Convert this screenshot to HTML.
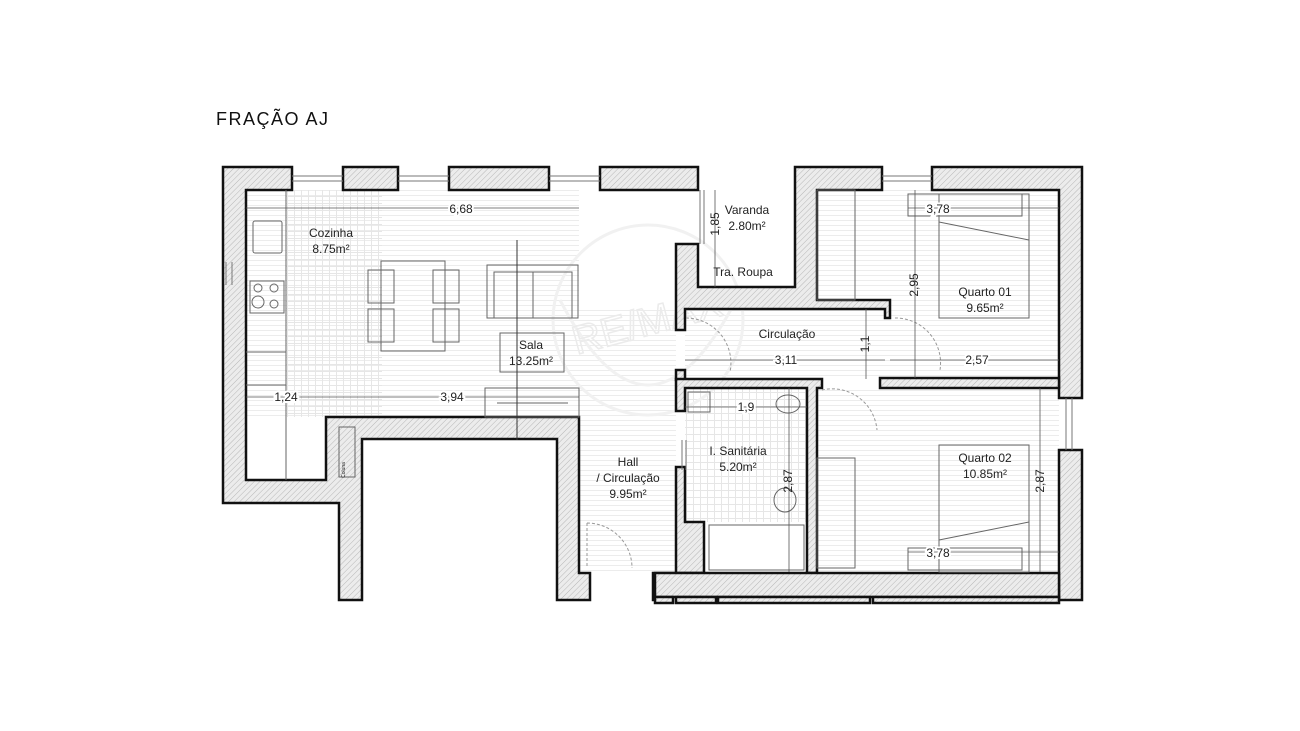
<!DOCTYPE html>
<html><head><meta charset="utf-8"><style>
html,body{margin:0;padding:0;background:#fff;}
svg{display:block;}
text{font-family:"Liberation Sans",sans-serif;fill:#222;}
</style></head><body>
<svg width="1300" height="731" viewBox="0 0 1300 731" xmlns="http://www.w3.org/2000/svg">
<defs>
<pattern id="h" width="4" height="4" patternUnits="userSpaceOnUse" patternTransform="rotate(45)">
<rect width="4" height="4" fill="#ececec"/><line x1="0" y1="0" x2="0" y2="4" stroke="#aaa" stroke-width="0.8"/>
</pattern>
<pattern id="fl" width="6" height="5" patternUnits="userSpaceOnUse">
<line x1="0" y1="0.5" x2="6" y2="0.5" stroke="#ececec" stroke-width="1"/>
</pattern>
<pattern id="gr" width="7" height="7" patternUnits="userSpaceOnUse">
<path d="M0 0.5H7M0.5 0V7" stroke="#e6e6e6" stroke-width="1" fill="none"/>
</pattern>
</defs>
<rect width="1300" height="731" fill="#fff"/>
<text x="216" y="125" font-size="18" letter-spacing="1.5" style="fill:#111">FRAÇÃO AJ</text>

<rect x="246" y="190" width="333" height="227" fill="url(#fl)"/>
<rect x="286" y="190" width="96" height="227" fill="url(#gr)"/>
<rect x="579" y="309" width="97" height="264" fill="url(#fl)"/>
<rect x="685" y="309" width="200" height="70" fill="url(#fl)"/>
<rect x="685" y="388" width="122" height="134" fill="url(#gr)"/>
<rect x="817" y="190" width="242" height="188" fill="url(#fl)"/>
<rect x="817" y="388" width="242" height="184" fill="url(#fl)"/>

<g fill="none" stroke="#f1f1f1" stroke-width="3">
<circle cx="648" cy="320" r="95"/>
<path d="M560 300 Q648 470 736 300"/>
</g>
<text x="570" y="335" font-size="40" style="fill:none;stroke:#ebebeb;stroke-width:1.5" transform="rotate(-15 648 320)">RE/MAX</text>

<g fill="url(#h)" stroke="#111" stroke-width="2.5" stroke-linejoin="miter">
<path d="M223 167H292V190H246V480H326V417H579V573H590V600H557V439H362V600H339V503H223Z"/>
<rect x="343" y="167" width="55" height="23"/>
<rect x="449" y="167" width="100" height="23"/>
<rect x="600" y="167" width="98" height="23"/>
<path d="M676 244H698V287H795V167H882V190H817V300H890V318H885V309H685V330H676Z"/>
<rect x="676" y="370" width="9" height="10"/>
<path d="M676 379H822V388H817V573H807V388H685V411H676Z"/>
<path d="M676 467H685V522H704V573H695V573H655V600H653V573H676Z"/>
<path d="M932 167H1082V398H1059V190H932Z"/>
<path d="M880 378H1059V388H880Z"/>
<path d="M1059 450H1082V600H1059Z"/>
<path d="M655 573H1059V597H655Z"/>
<rect x="655" y="597" width="18" height="6"/>
<rect x="676" y="597" width="40" height="6"/>
<rect x="718" y="597" width="152" height="6"/>
<rect x="873" y="597" width="186" height="6"/>
</g>
<g stroke="#777" stroke-width="1" fill="none">
<path d="M292 176H343M292 181H343M398 176H449M398 181H449M549 176H600M549 181H600M882 176H932M882 181H932"/>
<path d="M1066 398V450M1072 398V450M226 262V285M232 262V285"/>
<path d="M700 190V244M704 190V244M682 440V470M686 440V470"/>
</g>

<g fill="none" stroke="#666" stroke-width="1">
<rect x="253" y="221" width="29" height="32" rx="2"/>
<rect x="250" y="281" width="34" height="32"/>
<circle cx="258" cy="288" r="4"/><circle cx="274" cy="288" r="4"/><circle cx="258" cy="302" r="6"/><circle cx="274" cy="304" r="4"/>
<line x1="286" y1="190" x2="286" y2="480"/>
<line x1="246" y1="352" x2="286" y2="352"/><line x1="246" y1="385" x2="286" y2="385"/>
<rect x="381" y="261" width="64" height="90"/>
<rect x="368" y="270" width="26" height="33"/><rect x="368" y="309" width="26" height="33"/>
<rect x="433" y="270" width="26" height="33"/><rect x="433" y="309" width="26" height="33"/>
<rect x="487" y="265" width="91" height="53"/><rect x="494" y="272" width="78" height="46"/>
<line x1="533" y1="272" x2="533" y2="318"/>
<rect x="500" y="333" width="64" height="39"/>
<rect x="485" y="388" width="94" height="29"/>
<line x1="497" y1="403" x2="568" y2="403"/>
<line x1="517" y1="240" x2="517" y2="440" stroke="#333"/>
<rect x="339" y="427" width="16" height="50"/>
<rect x="939" y="194" width="90" height="124"/>
<line x1="939" y1="222" x2="1029" y2="240"/>
<rect x="908" y="194" width="114" height="22"/>
<rect x="939" y="445" width="90" height="127"/>
<line x1="939" y1="540" x2="1029" y2="522"/>
<rect x="908" y="548" width="114" height="22"/>
<rect x="817" y="190" width="38" height="110"/>
<rect x="817" y="458" width="38" height="110"/>
<rect x="709" y="525" width="95" height="45"/>
<ellipse cx="788" cy="404" rx="12" ry="9"/>
<ellipse cx="785" cy="500" rx="11" ry="12"/>
<rect x="688" y="392" width="22" height="20"/>
</g>
<g fill="none" stroke="#999" stroke-width="1" stroke-dasharray="3 2">
<path d="M587 523A45 45 0 0 1 632 568M587 523V568"/>
<path d="M822 390A45 45 0 0 1 877 430"/>
<path d="M895 318A45 45 0 0 1 940 370"/>
<path d="M686 318A45 45 0 0 1 730 372"/>
</g>
<g stroke="#555" stroke-width="0.8">
<line x1="246" y1="208" x2="579" y2="208"/>
<line x1="246" y1="397" x2="579" y2="397"/>
<line x1="685" y1="360" x2="885" y2="360"/>
<line x1="890" y1="360" x2="1059" y2="360"/>
<line x1="908" y1="208" x2="1059" y2="208"/>
<line x1="908" y1="552" x2="1059" y2="552"/>
<line x1="685" y1="407" x2="807" y2="407"/>
<line x1="715" y1="190" x2="715" y2="287"/>
<line x1="915" y1="190" x2="915" y2="378"/>
<line x1="866" y1="309" x2="866" y2="379"/>
<line x1="789" y1="388" x2="789" y2="572"/>
<line x1="1040" y1="388" x2="1040" y2="572"/>
</g>

<g font-size="12" text-anchor="middle">
<text x="331" y="237">Cozinha</text><text x="331" y="253">8.75m²</text>
<text x="531" y="349">Sala</text><text x="531" y="365">13.25m²</text>
<text x="461" y="213" stroke="#fff" stroke-width="4" paint-order="stroke">6,68</text>
<text x="286" y="401" stroke="#fff" stroke-width="4" paint-order="stroke">1,24</text>
<text x="452" y="401" stroke="#fff" stroke-width="4" paint-order="stroke">3,94</text>
<text x="628" y="466">Hall</text><text x="628" y="482">/ Circulação</text><text x="628" y="498">9.95m²</text>
<text x="747" y="214">Varanda</text><text x="747" y="230">2.80m²</text>
<text x="743" y="276">Tra. Roupa</text>
<text x="787" y="338">Circulação</text>
<text x="786" y="364" stroke="#fff" stroke-width="4" paint-order="stroke">3,11</text>
<text x="977" y="364" stroke="#fff" stroke-width="4" paint-order="stroke">2,57</text>
<text x="938" y="213" stroke="#fff" stroke-width="4" paint-order="stroke">3,78</text>
<text x="938" y="557" stroke="#fff" stroke-width="4" paint-order="stroke">3,78</text>
<text x="985" y="296">Quarto 01</text><text x="985" y="312">9.65m²</text>
<text x="985" y="462">Quarto 02</text><text x="985" y="478">10.85m²</text>
<text x="746" y="411" stroke="#fff" stroke-width="4" paint-order="stroke">1,9</text>
<text x="738" y="455">I. Sanitária</text><text x="738" y="471">5.20m²</text>
<text transform="translate(719 224) rotate(-90)">1,85</text>
<text transform="translate(918 285) rotate(-90)">2,95</text>
<text transform="translate(869 344) rotate(-90)">1,1</text>
<text transform="translate(792 481) rotate(-90)">2,87</text>
<text transform="translate(1044 481) rotate(-90)">2,87</text>
<text transform="translate(345 470) rotate(-90)" font-size="5">Coluna</text>
</g>
</svg>
</body></html>
